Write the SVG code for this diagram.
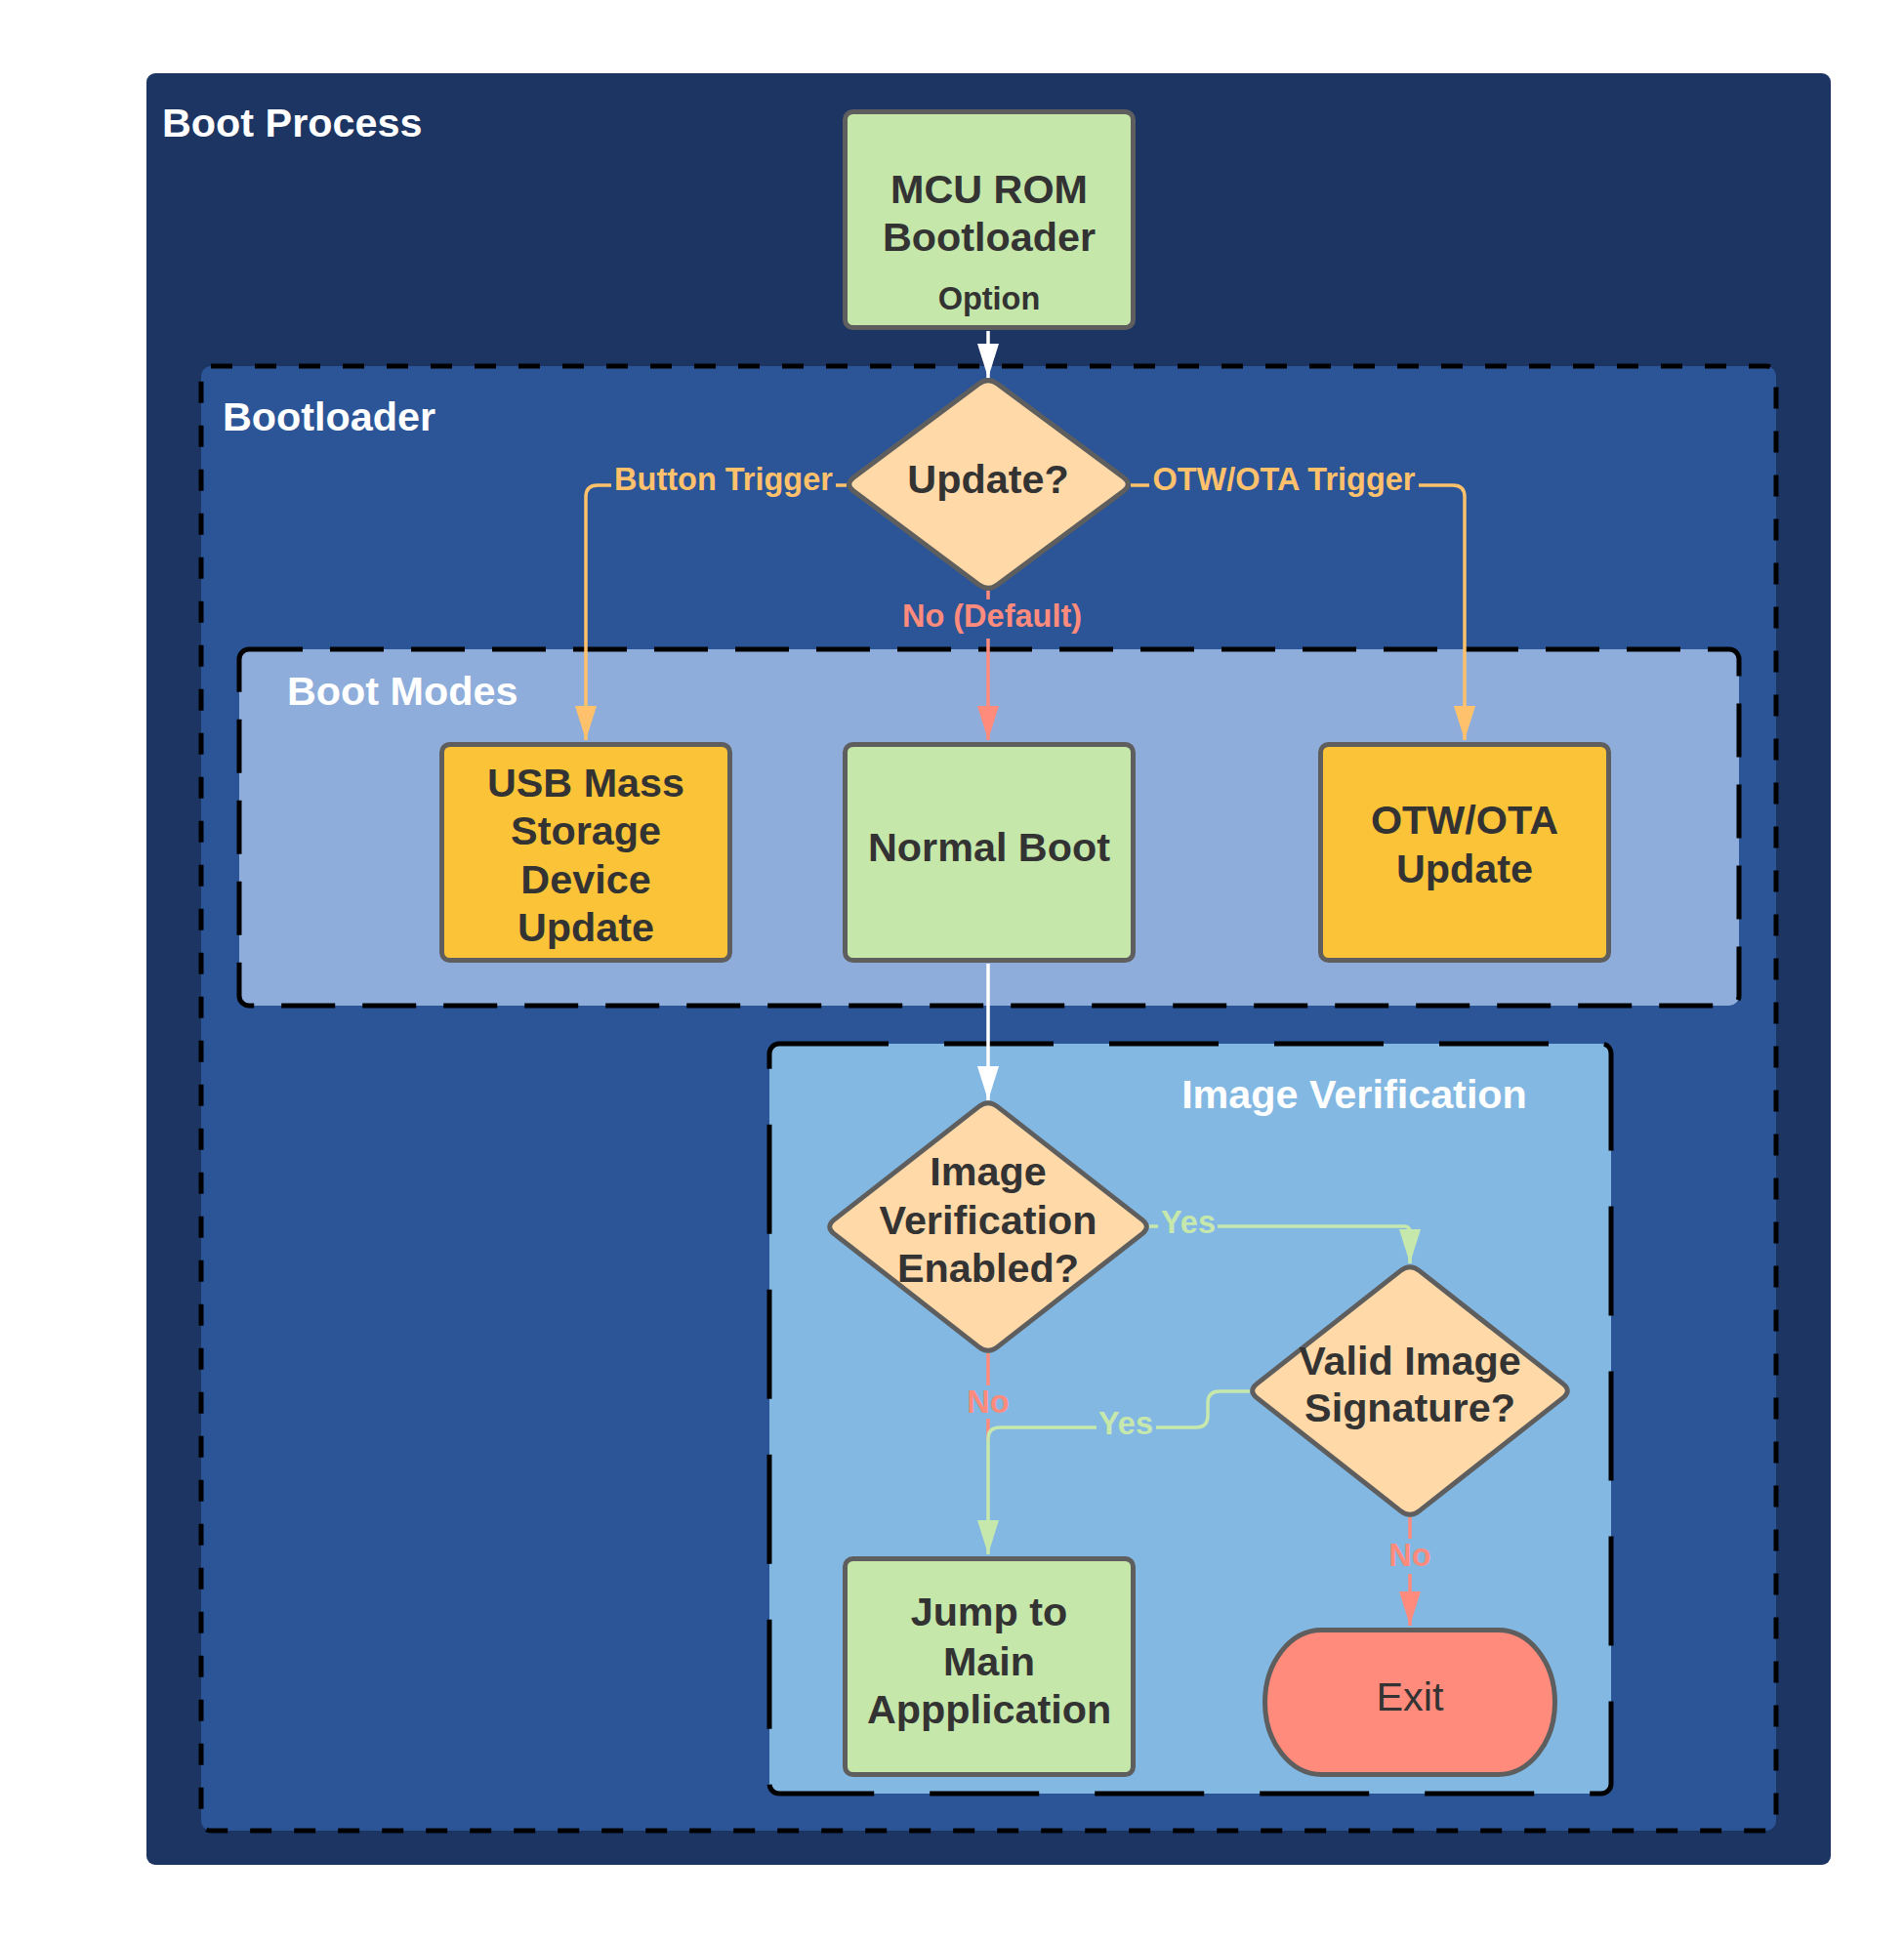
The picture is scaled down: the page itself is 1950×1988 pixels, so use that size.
<svg xmlns="http://www.w3.org/2000/svg" width="1950" height="1988" viewBox="0 0 1950 1988">
<style>
.title{font-family:"Liberation Sans",Arial,sans-serif;font-weight:bold;font-size:41.33px;fill:#ffffff}
.nt{font-family:"Liberation Sans",Arial,sans-serif;font-weight:bold;font-size:41.33px;fill:#333333;text-anchor:middle}
.nts{font-family:"Liberation Sans",Arial,sans-serif;font-weight:bold;font-size:32.5px;fill:#333333;text-anchor:middle}
.ntr{font-family:"Liberation Sans",Arial,sans-serif;font-size:41.33px;fill:#333333;text-anchor:middle}
.lbl{font-family:"Liberation Sans",Arial,sans-serif;font-weight:bold;font-size:32.5px;text-anchor:middle}
.box{stroke:#5e5e5e;stroke-width:5;stroke-linejoin:round}
.green{fill:#c5e7aa}
.orange{fill:#fbc438}
.dia{fill:#ffdaa8}
.exit{fill:#ff8b7d}
.c{fill:none;stroke-width:3.5}
.cw{stroke:#ffffff}
.co{stroke:#ffc16b}
.cs{stroke:#ff8b7d}
.cg{stroke:#c7e8ac}
</style>
<defs>
<marker id="aw" viewBox="0 0 35 22" markerWidth="35" markerHeight="22" refX="35" refY="11" orient="auto" markerUnits="userSpaceOnUse"><path d="M0,0 L35,11 L0,22 z" fill="#ffffff"/></marker>
<marker id="ao" viewBox="0 0 35 22" markerWidth="35" markerHeight="22" refX="35" refY="11" orient="auto" markerUnits="userSpaceOnUse"><path d="M0,0 L35,11 L0,22 z" fill="#ffc16b"/></marker>
<marker id="as" viewBox="0 0 35 22" markerWidth="35" markerHeight="22" refX="35" refY="11" orient="auto" markerUnits="userSpaceOnUse"><path d="M0,0 L35,11 L0,22 z" fill="#ff8b7d"/></marker>
<marker id="ag" viewBox="0 0 35 22" markerWidth="35" markerHeight="22" refX="35" refY="11" orient="auto" markerUnits="userSpaceOnUse"><path d="M0,0 L35,11 L0,22 z" fill="#c7e8ac"/></marker>
</defs>
<rect width="1950" height="1988" fill="#ffffff"/>
<g id="boot-process">
<rect x="150" y="75" width="1725" height="1835" rx="9" fill="#1c3563"/>
<text class="title" x="166" y="140">Boot Process</text>
</g>
<g id="bootloader">
<rect x="206" y="375" width="1613" height="1500" rx="10" fill="#2b5597" stroke="#000000" stroke-width="5" stroke-dasharray="22 23"/>
<text class="title" x="228" y="441">Bootloader</text>
</g>
<g id="boot-modes">
<rect x="245" y="665" width="1536" height="365" rx="10" fill="#8fadda" stroke="#000000" stroke-width="5" stroke-dasharray="55 28"/>
<text class="title" x="294" y="722">Boot Modes</text>
</g>
<g id="image-verification">
<rect x="788" y="1069" width="862" height="768" rx="10" fill="#83b8e3" stroke="#000000" stroke-width="5" stroke-dasharray="112 57"/>
<text class="title" x="1387" y="1135" text-anchor="middle">Image Verification</text>
</g>
<g id="connectors">
<path class="c cw" d="M1012,339 V387" marker-end="url(#aw)"/>
<path class="c co" d="M867,497 H856"/>
<path class="c co" d="M626,497 H612 Q600,497 600,509 V758" marker-end="url(#ao)"/>
<text class="lbl" x="741" y="502" fill="#ffc16b">Button Trigger</text>
<path class="c co" d="M1158,497 H1177"/>
<path class="c co" d="M1453,497 H1488 Q1500,497 1500,509 V758" marker-end="url(#ao)"/>
<text class="lbl" x="1315" y="502" fill="#ffc16b">OTW/OTA Trigger</text>
<path class="c cs" d="M1012,605 V614"/>
<path class="c cs" d="M1012,654 V758" marker-end="url(#as)"/>
<text class="lbl" x="1016" y="642" fill="#ff8b7d">No (Default)</text>
<path class="c cw" d="M1012,987 V1127" marker-end="url(#aw)"/>
<path class="c cg" d="M1177,1256 H1186"/>
<path class="c cg" d="M1247,1256 H1438 Q1444,1256 1444,1262 V1294" marker-end="url(#ag)"/>
<text class="lbl" x="1217" y="1263" fill="#c7e8ac">Yes</text>
<path class="c cs" d="M1012,1386 V1419"/>
<path class="c cs" d="M1012,1453 V1476"/>
<text class="lbl" x="1012" y="1447" fill="#ff8b7d">No</text>
<path class="c cg" d="M1280,1425 H1249 Q1237,1425 1237,1437 V1450 Q1237,1462 1225,1462 H1184"/>
<path class="c cg" d="M1123,1462 H1024 Q1012,1462 1012,1474 V1592" marker-end="url(#ag)"/>
<text class="lbl" x="1153" y="1469" fill="#c7e8ac">Yes</text>
<path class="c cs" d="M1444,1554 V1576"/>
<path class="c cs" d="M1444,1612 V1665" marker-end="url(#as)"/>
<text class="lbl" x="1444" y="1604" fill="#ff8b7d">No</text>
</g>
<g id="mcu-rom-bootloader">
<rect class="box green" x="865.5" y="114.5" width="295" height="221" rx="8"/>
<text class="nt" x="1013" y="208">MCU ROM</text>
<text class="nt" x="1013" y="257">Bootloader</text>
<text class="nts" x="1013" y="317">Option</text>
</g>
<g id="update-decision">
<path class="box dia" d="M1002.4,393.2 Q1012,386 1021.6,393.2 L1150.4,488.8 Q1160,496 1150.4,503.2 L1021.6,598.8 Q1012,606 1002.4,598.8 L874.6,503.2 Q865,496 874.6,488.8 Z"/>
<text class="nt" x="1012" y="505">Update?</text>
</g>
<g id="usb-mass-storage">
<rect class="box orange" x="452.5" y="762.5" width="295" height="221" rx="8"/>
<text class="nt" x="600" y="816">USB Mass</text>
<text class="nt" x="600" y="865">Storage</text>
<text class="nt" x="600" y="915">Device</text>
<text class="nt" x="600" y="964">Update</text>
</g>
<g id="normal-boot">
<rect class="box green" x="865.5" y="762.5" width="295" height="221" rx="8"/>
<text class="nt" x="1013" y="882">Normal Boot</text>
</g>
<g id="otw-ota-update">
<rect class="box orange" x="1352.5" y="762.5" width="295" height="221" rx="8"/>
<text class="nt" x="1500" y="854">OTW/OTA</text>
<text class="nt" x="1500" y="904">Update</text>
</g>
<g id="image-verification-enabled">
<path class="box dia" d="M1002.55,1133.4 Q1012,1126 1021.45,1133.4 L1169.55,1249.1 Q1179,1256.5 1169.55,1263.9 L1021.45,1379.6 Q1012,1387 1002.55,1379.6 L854.45,1263.9 Q845,1256.5 854.45,1249.1 Z"/>
<text class="nt" x="1012" y="1214">Image</text>
<text class="nt" x="1012" y="1264">Verification</text>
<text class="nt" x="1012" y="1313">Enabled?</text>
</g>
<g id="valid-image-signature">
<path class="box dia" d="M1434.55,1301.4 Q1444,1294 1453.45,1301.4 L1600.55,1417.1 Q1610,1424.5 1600.55,1431.9 L1453.45,1547.6 Q1444,1555 1434.55,1547.6 L1287.45,1431.9 Q1278,1424.5 1287.45,1417.1 Z"/>
<text class="nt" x="1444" y="1408">Valid Image</text>
<text class="nt" x="1444" y="1456">Signature?</text>
</g>
<g id="jump-to-main">
<rect class="box green" x="865.5" y="1596.5" width="295" height="221" rx="8"/>
<text class="nt" x="1013" y="1665">Jump to</text>
<text class="nt" x="1013" y="1716">Main</text>
<text class="nt" x="1013" y="1765">Appplication</text>
</g>
<g id="exit">
<rect class="box exit" x="1295.5" y="1669.5" width="297" height="148" rx="58" ry="74"/>
<text class="ntr" x="1444" y="1752">Exit</text>
</g>
</svg>
